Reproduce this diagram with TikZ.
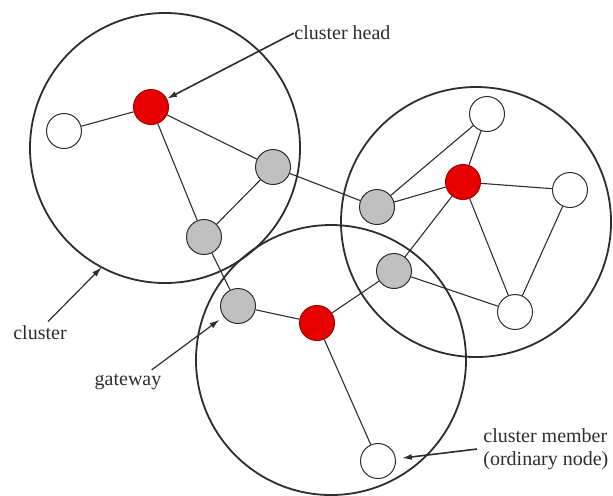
\documentclass[tikz,border=0pt]{standalone}
\usepackage{fontspec}
\setmainfont{Liberation Serif}
\usepackage{xcolor}
\usepackage{tikz}
\usetikzlibrary{arrows.meta}
\definecolor{headred}{RGB}{232,0,0}
\definecolor{gatgray}{RGB}{192,192,192}
\definecolor{inkgray}{RGB}{45,45,45}

\begin{document}
\begin{tikzpicture}[x=0.5pt,y=-0.5pt,>={Latex[length=5pt,width=3pt]},
  ring/.style={circle,draw=inkgray,line width=0.9pt,inner sep=0pt,outer sep=0pt,minimum size=135pt},
  vtx/.style={circle,draw=inkgray,line width=0.5pt,inner sep=0pt,minimum size=17.5pt},
  chnode/.style={vtx,fill=headred,draw=headred!70!black},
  gwnode/.style={vtx,fill=gatgray},
  mbnode/.style={vtx,fill=white},
  link/.style={draw=inkgray,line width=0.55pt},
  lab/.style={inner sep=0pt,text=inkgray,font=\fontsize{10pt}{11.5pt}\selectfont}]
  \useasboundingbox (0,0) rectangle (613,495);
  % clusters
  \node[ring] (cl1) at (165,148) {};
  \node[ring] (cl2) at (476,222) {};
  \node[ring] (cl3) at (331,360) {};
  % nodes
  \node[mbnode] (w1) at (64,131) {};
  \node[chnode] (r1) at (151,107) {};
  \node[gwnode] (g1) at (273,167) {};
  \node[gwnode] (g2) at (204,237) {};
  \node[gwnode] (g3) at (238,306) {};
  \node[chnode] (r2) at (317,323) {};
  \node[gwnode] (g4) at (377,207) {};
  \node[chnode] (r3) at (463,182) {};
  \node[mbnode] (wt) at (487,114) {};
  \node[mbnode] (wr) at (570,190) {};
  \node[gwnode] (g5) at (394,271) {};
  \node[mbnode] (wbr) at (515,312) {};
  \node[mbnode] (wb) at (378,461) {};
  % links
  \path[link] (w1) -- (r1) (r1) -- (g1) (r1) -- (g2) (g1) -- (g2) (g1) -- (g4)
    (g2) -- (g3) (g3) -- (r2) (r2) -- (g5) (r2) -- (wb)
    (g4) -- (r3) (g4) -- (wt) (wt) -- (r3) (r3) -- (wr) (r3) -- (g5)
    (r3) -- (wbr) (wr) -- (wbr) (g5) -- (wbr);
  % labels
  \node[lab,anchor=west] (chlab) at (294,33) {cluster head};
  \node[lab] (cllab) at (40,333) {cluster};
  \node[lab] (gwlab) at (128,382) {gateway};
  \node[lab,anchor=west,align=left] (mblab) at (483,449) {cluster member\\(ordinary node)};
  \draw[->,line width=0.8pt,inkgray] (chlab.west) -- (r1);
  \draw[->,line width=0.6pt,inkgray] ([xshift=4pt,yshift=2pt]cllab.north) -- (cl1.242);
  \draw[->,line width=0.6pt,inkgray,shorten >=2.5pt] ([xshift=-5pt,yshift=2pt]gwlab.north east) -- (g3);
  \draw[->,line width=0.8pt,inkgray,shorten >=3pt] ([xshift=-3pt]mblab.west) -- (wb);
\end{tikzpicture}
\end{document}
